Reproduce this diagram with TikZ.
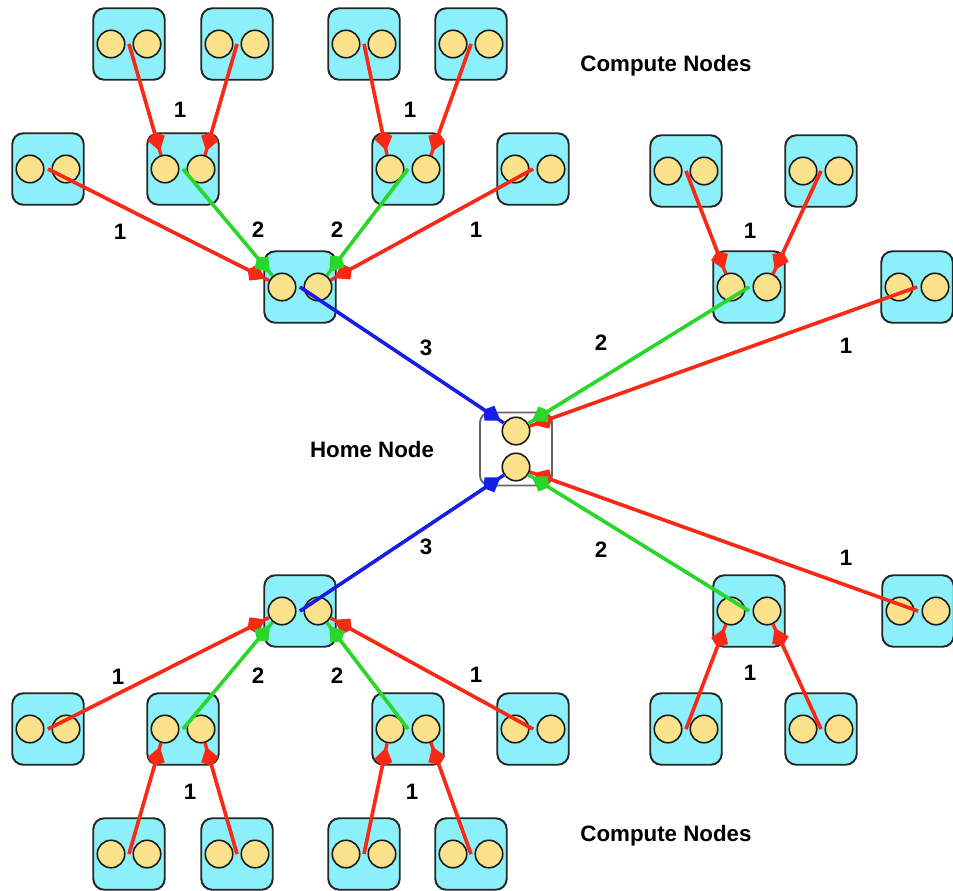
\documentclass[tikz,border=0pt]{standalone}
\usepackage{fontspec}
\setmainfont{Liberation Sans}
\usepackage{tikz}
\usetikzlibrary{arrows.meta, positioning}

\definecolor{boxcyan}{RGB}{140,240,250}
\definecolor{coreyellow}{RGB}{250,226,140}
\definecolor{linkred}{RGB}{250,40,20}
\definecolor{linkgreen}{RGB}{40,215,40}
\definecolor{linkblue}{RGB}{20,30,230}

\tikzset{
  cbox/.style={draw=black!85, line width=1.1pt, fill=boxcyan, rounded corners=0.22cm,
    minimum width=1.43cm, minimum height=1.43cm},
  hbox/.style={draw=black!60, line width=1.1pt, fill=white, rounded corners=0.2cm,
    minimum width=1.44cm, minimum height=1.46cm},
  core/.style={circle, draw=black!90, line width=0.9pt, fill=coreyellow,
    minimum size=0.55cm, inner sep=0pt},
  wire/.style={line width=1.9pt},
  headed/.style={wire, -{Kite[length=0.4cm, width=0.36cm, inset=0.13cm, sep=0.08cm]}},
  num/.style={font=\bfseries\fontsize{12.7}{15}\selectfont}
}

% box with two processor cores
\newcommand{\computenode}[3]{%
  \node[cbox] (#1) at (#2,#3) {};
  \node[core] (#1-l) at ([xshift=-0.36cm]#1.center) {};
  \node[core] (#1-r) at ([xshift=0.36cm]#1.center) {};}

% message from one box to a core, head sits at the box edge
\newcommand{\feed}[3]{%
  \draw[wire, #1] (#2.center) -- (#3);
  \draw[headed, #1] (#2.center) -- (#3);}

\begin{document}
\begin{tikzpicture}[x=0.02cm, y=-0.02cm]
\useasboundingbox (0,0) rectangle (953,890);

% upper left tree
\computenode{ua1}{129}{44}
\computenode{ua2}{237}{44}
\computenode{ua3}{364}{44}
\computenode{ua4}{471}{44}
\computenode{ul1}{48}{169}
\computenode{ub1}{183}{169}
\computenode{ub2}{408}{169}
\computenode{ul2}{533}{169}
\computenode{uc}{300}{287}

% upper right tree
\computenode{ud1}{686}{171}
\computenode{ud2}{821}{171}
\computenode{ue}{749}{287}
\computenode{uf}{917}{287}

% lower left tree
\computenode{la1}{129}{854}
\computenode{la2}{237}{854}
\computenode{la3}{364}{854}
\computenode{la4}{471}{854}
\computenode{ll1}{48}{729}
\computenode{lb1}{183}{729}
\computenode{lb2}{408}{729}
\computenode{ll2}{533}{729}
\computenode{lc}{300}{611}

% lower right tree
\computenode{ld1}{686}{729}
\computenode{ld2}{821}{729}
\computenode{le}{749}{611}
\computenode{lf}{918}{611}

% home node
\node[hbox] (home) at (516,449) {};
\node[core] (home-t) at ([yshift=0.36cm]home.center) {};
\node[core] (home-b) at ([yshift=-0.36cm]home.center) {};

% step 1
\foreach \from/\to in {ua1/ub1-l, ua2/ub1-r, ua3/ub2-l, ua4/ub2-r, ul1/uc-l, ul2/uc-r,
    ud1/ue-l, ud2/ue-r, uf/home-t,
    la1/lb1-l, la2/lb1-r, la3/lb2-l, la4/lb2-r, ll1/lc-l, ll2/lc-r,
    ld1/le-l, ld2/le-r, lf/home-b}
  {\feed{linkred}{\from}{\to}}
% step 2
\foreach \from/\to in {ub1/uc-l, ub2/uc-r, ue/home-t, lb1/lc-l, lb2/lc-r, le/home-b}
  {\feed{linkgreen}{\from}{\to}}
% step 3
\feed{linkblue}{uc}{home-t}
\feed{linkblue}{lc}{home-b}

% step numbers
\node[num] (s-ua) at (180,110) {1};
\node[num] (s-ub) at (410,110) {1};
\node[num] (s-ul1) at (120,232) {1};
\node[num] (s-ub1) at (258,230) {2};
\node[num] (s-ub2) at (337,230) {2};
\node[num] (s-ul2) at (476,230) {1};
\node[num] (s-uc) at (426,348) {3};
\node[num] (s-ue) at (601,343) {2};
\node[num] (s-uf) at (846,346) {1};
\node[num] (s-ud) at (750,231) {1};

\node[num] (s-la) at (190,792) {1};
\node[num] (s-lb) at (412,792) {1};
\node[num] (s-ll1) at (118,677) {1};
\node[num] (s-lb1) at (258,676) {2};
\node[num] (s-lb2) at (337,676) {2};
\node[num] (s-ll2) at (476,675) {1};
\node[num] (s-lc) at (426,547) {3};
\node[num] (s-le) at (601,550) {2};
\node[num] (s-lf) at (846,558) {1};
\node[num] (s-ld) at (750,673) {1};

% captions
\node[num] (cap-top) at (666,66) {Compute Nodes};
\node[num] (cap-bot) at (666,836) {Compute Nodes};
\node[num] (cap-home) at (372,450) {Home Node};
\end{tikzpicture}
\end{document}
